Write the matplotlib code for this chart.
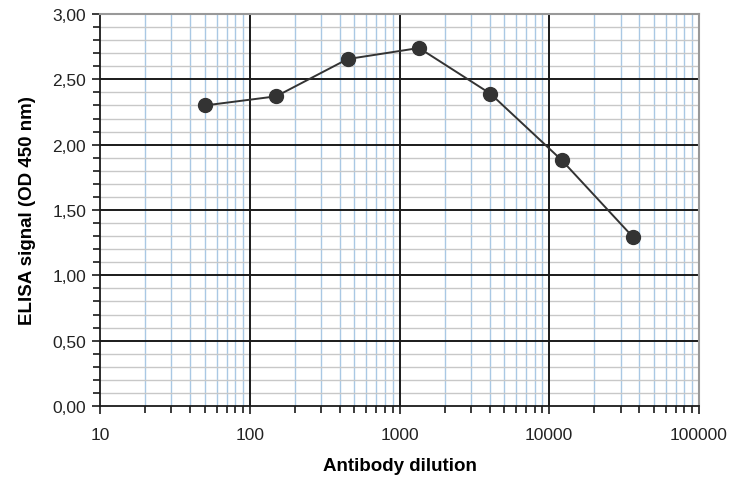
import numpy as np
import matplotlib
matplotlib.use('Agg')
import matplotlib.pyplot as plt
from matplotlib.ticker import LogLocator, FixedLocator, FuncFormatter, MultipleLocator

dilution = [50, 150, 450, 1350, 4050, 12150, 36450]
signal = [2.30, 2.37, 2.655, 2.74, 2.39, 1.88, 1.29]
y_ticks = [0.0, 0.5, 1.0, 1.5, 2.0, 2.5, 3.0]
x_ticks = [10, 100, 1000, 10000, 100000]

plt.rcParams['font.family'] = ['Liberation Sans', 'DejaVu Sans']

fig = plt.figure(figsize=(7.36, 4.81), dpi=100)
ax = fig.add_axes([0.1359, 0.1538, 0.8138, 0.815])

ax.set_xscale('log')
ax.set_xlim(10, 100000)
ax.set_ylim(0, 3)

# minor grid from the axis, major grid drawn on top of it
ax.yaxis.set_minor_locator(MultipleLocator(0.1))
ax.xaxis.set_major_locator(FixedLocator(x_ticks))
ax.xaxis.set_minor_locator(LogLocator(base=10, subs=np.arange(2, 10)))
ax.set_yticks(y_ticks)
ax.grid(which='minor', axis='x', color='#a9c8e4', lw=1.0)
ax.grid(which='minor', axis='y', color='#c8c8c8', lw=1.0)
ax.set_axisbelow(True)
for yv in y_ticks[1:-1]:
    ax.axhline(yv, color='#1a1a1a', lw=1.4, zorder=2)
for xv in x_ticks[1:-1]:
    ax.axvline(xv, color='#1a1a1a', lw=1.4, zorder=2)

ax.plot(dilution, signal, '-o', color='#333333', lw=1.4, ms=10, zorder=5)

ax.yaxis.set_major_formatter(FuncFormatter(lambda v, p: f'{v:.2f}'.replace('.', ',')))
ax.xaxis.set_major_formatter(FuncFormatter(lambda v, p: f'{int(round(v))}'))
ax.xaxis.set_minor_formatter(FuncFormatter(lambda v, p: ''))

ax.tick_params(axis='both', which='major', direction='out', length=6, width=1.2,
               color='#1a1a1a', labelsize=12.5, labelcolor='#222222')
ax.tick_params(axis='both', which='minor', direction='out', length=5, width=1.2,
               color='#1a1a1a')
ax.tick_params(axis='x', pad=9)
ax.tick_params(axis='y', pad=4)

for s in ['left', 'bottom']:
    ax.spines[s].set_color('#1a1a1a')
    ax.spines[s].set_linewidth(1.3)
for s in ['top', 'right']:
    ax.spines[s].set_color('#999999')
    ax.spines[s].set_linewidth(1.5)

ax.set_xlabel('Antibody dilution', fontsize=13.5, fontweight='bold', labelpad=11)
ax.set_ylabel('ELISA signal (OD 450 nm)', fontsize=13.5, fontweight='bold', labelpad=12)

fig.savefig('out.png', dpi=100)
